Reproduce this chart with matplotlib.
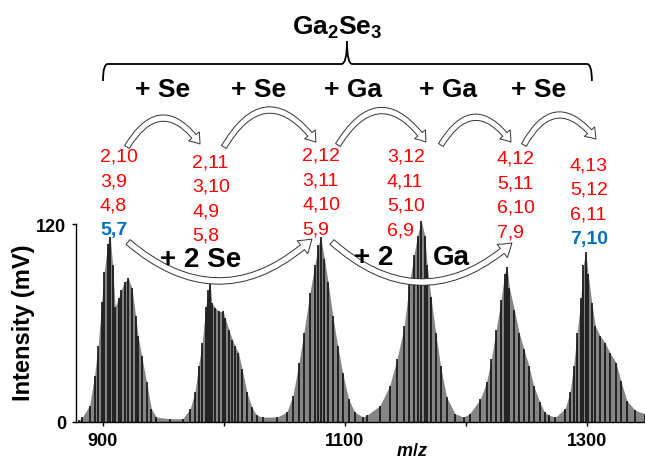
import matplotlib
matplotlib.use("Agg")
import matplotlib.pyplot as plt
from matplotlib.patches import FancyArrowPatch, PathPatch
from matplotlib.path import Path

plt.rcParams['font.family'] = ['Liberation Sans', 'DejaVu Sans']
plt.rcParams['mathtext.fontset'] = 'custom'
plt.rcParams['mathtext.rm'] = 'Liberation Sans:bold'
plt.rcParams['mathtext.it'] = 'Liberation Sans:italic:bold'
plt.rcParams['mathtext.bf'] = 'Liberation Sans:bold'

# spectrum, cluster by cluster (m/z, intensity in mV)
mz_c1 = [880, 883, 889, 893, 896, 899, 901, 904, 906, 908, 910, 913, 915, 918, 921, 924, 927, 929, 932, 936, 940, 944]
int_c1 = [1, 3, 10, 28, 46, 73, 91, 108, 112, 95, 70, 75, 80, 85, 87, 81, 64, 52, 40, 24, 8, 3]
mz_c2 = [955, 966, 972, 976, 979, 982, 985, 987, 988.5, 990, 993, 996, 999, 1001, 1004, 1007, 1009, 1012, 1015, 1019, 1023, 1027, 1032]
int_c2 = [2, 2, 8, 18, 34, 48, 70, 80, 85, 72, 69, 67, 67, 63, 56, 50, 46, 42, 32, 18, 9, 4, 3]
mz_c3 = [1044, 1052, 1057, 1062, 1066, 1071, 1075, 1078, 1080, 1083, 1086, 1090, 1094, 1098, 1103, 1108, 1115]
int_c3 = [3, 6, 16, 36, 54, 78, 95, 107, 112, 99, 85, 64, 46, 30, 14, 6, 3]
mz_c4 = [1118, 1129, 1137, 1143, 1149, 1153, 1157, 1160, 1163, 1166, 1168, 1171, 1175, 1179, 1184, 1191, 1198]
int_c4 = [4, 10, 22, 38, 58, 83, 101, 113, 122, 113, 95, 76, 54, 34, 15, 5, 3]
mz_c5 = [1203, 1212, 1217, 1221, 1225, 1229, 1232, 1234, 1236, 1240, 1244, 1248, 1252, 1256, 1261, 1265, 1269]
int_c5 = [5, 14, 24, 38, 56, 74, 90, 94, 81, 68, 54, 44, 34, 22, 12, 6, 4]
mz_c6 = [1274, 1282, 1286, 1289, 1292, 1295, 1297, 1299, 1301, 1304, 1307, 1311, 1315, 1319, 1324, 1328, 1333, 1340, 1348]
int_c6 = [3, 8, 18, 34, 54, 75, 95, 103, 90, 72, 58, 52, 48, 42, 36, 25, 13, 7, 5]

# cluster labels (Ga,Se), top row first
labels = [
    ['2,10', '3,9', '4,8', '5,7'],
    ['2,11', '3,10', '4,9', '5,8'],
    ['2,12', '3,11', '4,10', '5,9'],
    ['3,12', '4,11', '5,10', '6,9'],
    ['4,12', '5,11', '6,10', '7,9'],
    ['4,13', '5,12', '6,11', '7,10'],
]
label_left = [897.5, 973.6, 1064.5, 1134.7, 1225.6, 1286.0]
label_top = [161.2, 157.6, 161.8, 161.2, 160.0, 155.8]
highlight = {(0, 3), (5, 3)}

steps = ['+ Se', '+ Se', '+ Ga', '+ Ga', '+ Se']
steps_x = [949.6, 1028.9, 1106.6, 1185.1, 1260.3]

mz = mz_c1 + mz_c2 + mz_c3 + mz_c4 + mz_c5 + mz_c6
inten = int_c1 + int_c2 + int_c3 + int_c4 + int_c5 + int_c6

fig = plt.figure(figsize=(6.45, 4.64), dpi=100)
ax = fig.add_axes([76 / 645, 41 / 464, 569 / 645, 423 / 464])
ax.set_xlim(877.7, 1348)
ax.set_ylim(0, 256.4)

ax.fill_between(mz, 0, inten, color='#858585', lw=0, zorder=1)
ax.vlines(mz, 0, inten, color='#111111', lw=1.2, zorder=2)

for s in ['top', 'right']:
    ax.spines[s].set_visible(False)
ax.spines['left'].set_bounds(0, 120)
ax.spines['left'].set_linewidth(1.0)
ax.spines['bottom'].set_linewidth(1.0)
ax.set_yticks([0, 120])
ax.set_yticklabels(['0', '120'], fontsize=13, fontweight='bold')
ax.set_xticks([900, 1000, 1100, 1200, 1300])
ax.set_xticklabels(['900', '', '1100', '', '1300'], fontsize=13, fontweight='bold')
ax.tick_params(direction='out', length=3, width=1, pad=4)
fig.text(24 / 645, 1 - 323 / 464, 'Intensity (mV)', fontsize=17, fontweight='bold',
         rotation=90, ha='center', va='center')
fig.text(412 / 645, 1 - 452 / 464, '$m/z$', fontsize=13, ha='center', va='center')

# formula and brace
ax.text(1093.4, 239.4, 'Ga$_2$Se$_3$', fontsize=19, fontweight='bold', ha='center', va='center')
brace = Path(
    [(900, 206.7), (900, 217), (904, 217), (1097, 217), (1101.7, 217), (1101.7, 230.9),
     (1101.7, 217), (1106, 217), (1300, 217), (1304.1, 217), (1304.1, 206.7)],
    [Path.MOVETO, Path.CURVE3, Path.CURVE3, Path.LINETO, Path.CURVE3, Path.CURVE3,
     Path.CURVE3, Path.CURVE3, Path.LINETO, Path.CURVE3, Path.CURVE3])
ax.add_patch(PathPatch(brace, fc='none', ec='black', lw=1.3, clip_on=False))

for s, x in zip(steps, steps_x):
    ax.text(x, 201.8, s, fontsize=19, fontweight='bold', ha='center', va='center')

# small hollow arrows between columns
small_arrows = [((919.8, 166.7), (980.2, 168.5)),
                ((1000, 166.7), (1076, 169.7)),
                ((1094.2, 167.9), (1166.9, 169.7)),
                ((1179.3, 167.9), (1237.2, 169.7)),
                ((1247.9, 167.9), (1307.4, 171.5))]
for a, b in small_arrows:
    ax.add_patch(FancyArrowPatch(a, b, connectionstyle='arc3,rad=-0.75',
                                 arrowstyle='simple,head_length=7,head_width=10,tail_width=4',
                                 mutation_scale=1, fc='white', ec='#333333', lw=0.7,
                                 shrinkA=0, shrinkB=0, zorder=3))

big_arrows = [((920.7, 109.1), (1072.7, 110.9)),
              ((1089.3, 109.1), (1238, 108.5))]
for a, b in big_arrows:
    ax.add_patch(FancyArrowPatch(a, b, connectionstyle='arc3,rad=0.44',
                                 arrowstyle='simple,head_length=9,head_width=12,tail_width=4.5',
                                 mutation_scale=1, fc='white', ec='#333333', lw=0.7,
                                 shrinkA=0, shrinkB=0, zorder=3))

ax.text(981, 98.8, '+ 2 Se', fontsize=20, fontweight='bold', ha='center', va='center', zorder=4)
ax.text(1124, 100, '+ 2', fontsize=20, fontweight='bold', ha='center', va='center', zorder=4)
ax.text(1187.6, 100, 'Ga', fontsize=20, fontweight='bold', ha='center', va='center', zorder=4)

for i, col in enumerate(labels):
    for j, lab in enumerate(col):
        hl = (i, j) in highlight
        ax.text(label_left[i], label_top[i] - j * 14.85, lab, fontsize=14,
                color='#0070C0' if hl else '#ff0000',
                fontweight='bold' if hl else 'normal',
                ha='left', va='center', zorder=4)

fig.savefig('out.png', dpi=100)
